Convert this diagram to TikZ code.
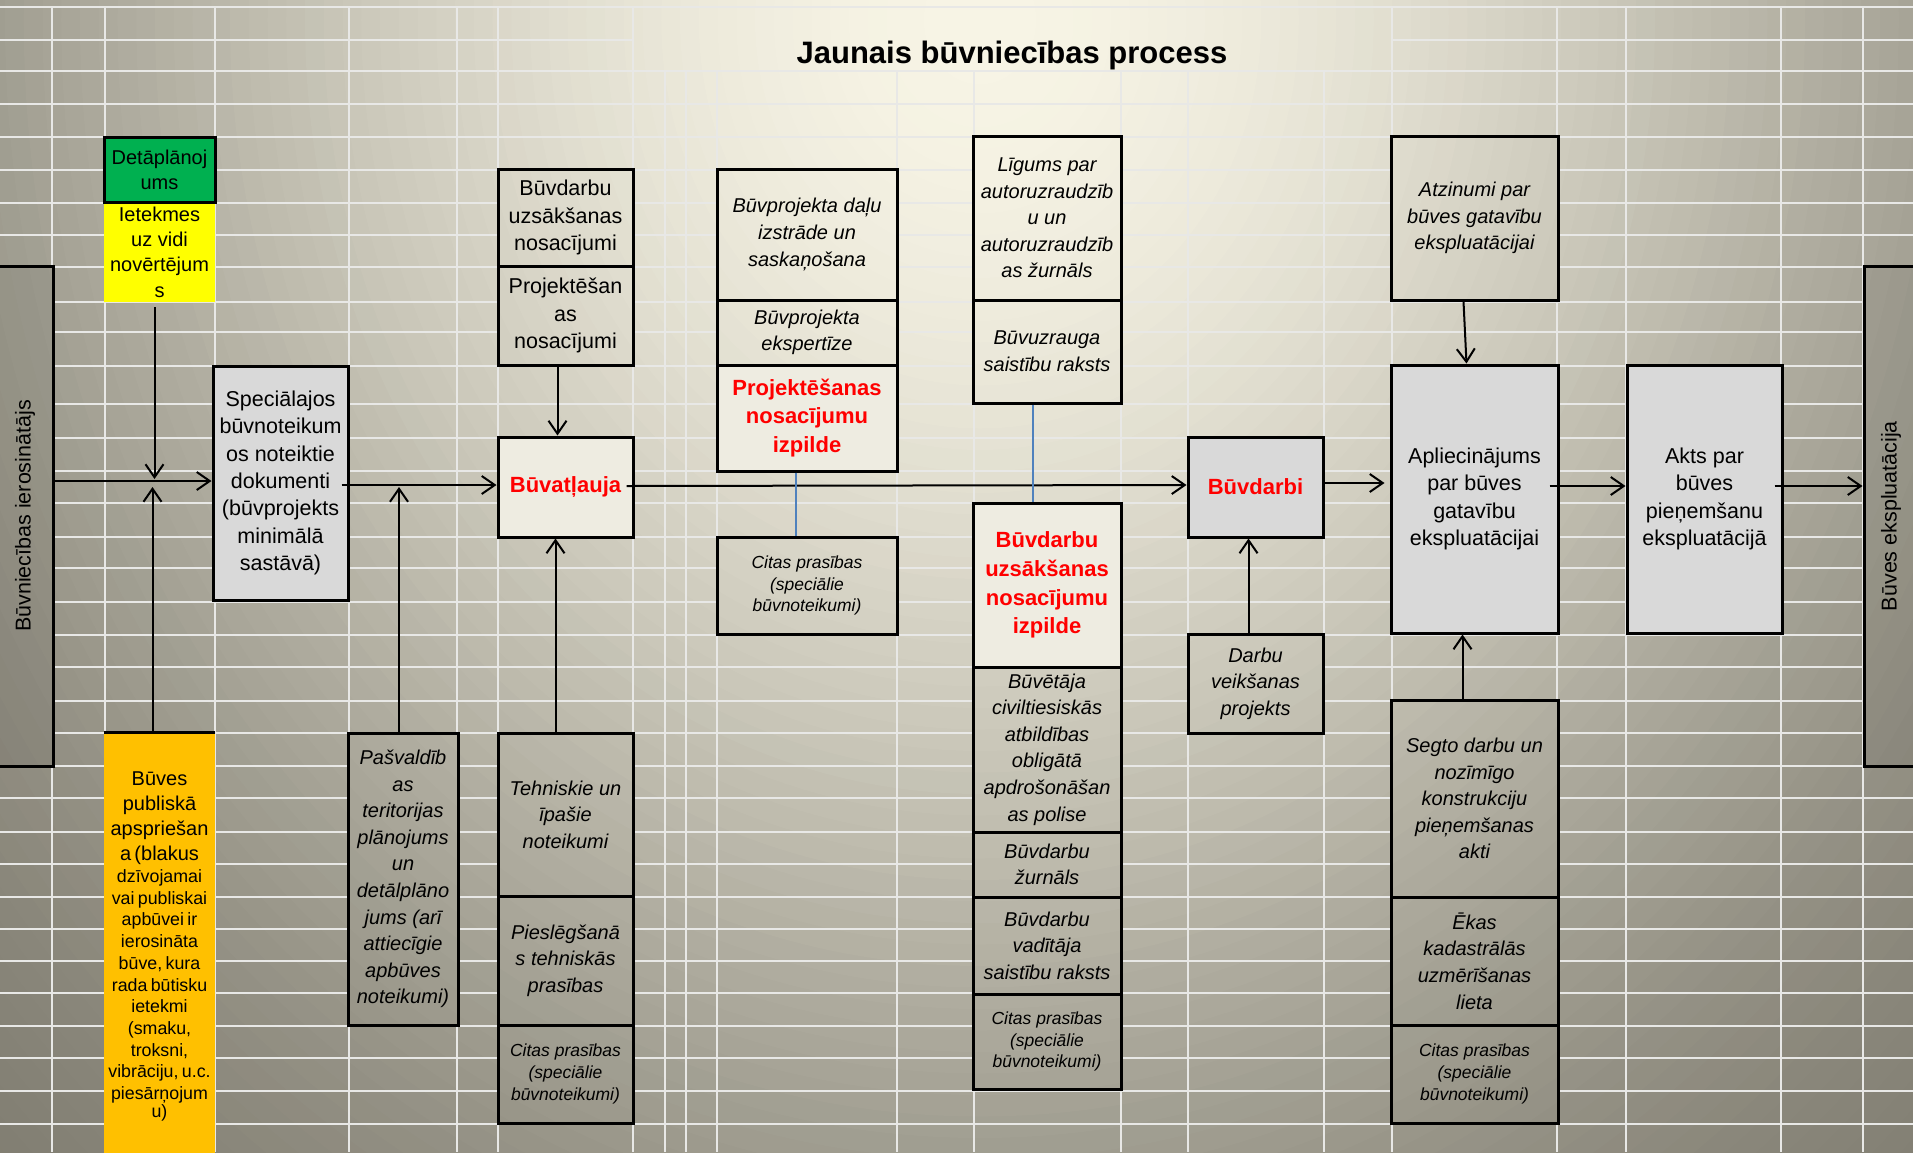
\documentclass[tikz,border=0pt]{standalone}
\usepackage{fontspec}
\setmainfont{Liberation Sans}
\usepackage{graphicx}
\usetikzlibrary{arrows.meta}

\definecolor{gridline}{RGB}{232,232,230}
\definecolor{boxgray}{RGB}{217,217,217}
\definecolor{boxcream}{RGB}{238,236,225}
\definecolor{dplgreen}{RGB}{0,176,80}
\definecolor{ivnyellow}{RGB}{255,255,0}
\definecolor{publorange}{RGB}{255,192,0}
\definecolor{linkblue}{RGB}{79,129,189}
\definecolor{textred}{RGB}{255,0,0}
\definecolor{bglight}{RGB}{247,244,229}
\definecolor{bgdark}{RGB}{128,125,113}

% page background: light at the top centre, darker to the sides
\newcommand\pagebg{%
  \fill[bgdark] (bgA) rectangle (bgB);
  \foreach \i in {0,...,79}{%
    \pgfmathsetmacro\bgu{1-(\i+0.5)/80}%
    \pgfmathsetmacro\bgp{100-100*\bgu*\bgu*(3-2*\bgu)}%
    \pgfmathsetmacro\bgrx{1500*(1-\i/80)}%
    \pgfmathsetmacro\bgry{1720*(1-\i/80)}%
    \fill[bglight!\bgp!bgdark] (bgC) ellipse [x radius=\bgrx pt, y radius=\bgry pt];
  }%
}

\newcommand\bodyfont{\fontsize{21.5}{27.3}\selectfont}
\newcommand\notefont{\fontsize{20}{26.6}\selectfont\itshape}
\newcommand\citfont{\fontsize{17.5}{21.7}\selectfont\itshape}
\newcommand\keyfont{\fontsize{22}{28.6}\selectfont\bfseries}
\newcommand\titlefont{\fontsize{31}{36}\selectfont\bfseries}

\begin{document}
\begin{tikzpicture}[x=1pt,y=-1pt,
  frame/.style={draw=black, line width=3pt},
  sheet/.style={path picture={\pagebg}},
  doc/.style={frame, sheet, font=\bodyfont},
  note/.style={frame, sheet, font=\notefont},
  cit/.style={frame, sheet, font=\citfont},
  graybox/.style={frame, fill=boxgray, font=\bodyfont},
  redbox/.style={frame, font=\keyfont, text=textred},
  bar/.style={frame, font=\bodyfont, path picture={\pagebg \fill[black, opacity=.05] (bgA) rectangle (bgB);}},
  flow/.style={line width=2pt, -{Straight Barb[length=13pt, width=18pt]}},
  link/.style={linkblue, line width=2pt}]
\tikzstyle{every node}+=[inner sep=0pt, align=center]

\useasboundingbox (0,0) rectangle (1913,1152);
\coordinate (bgA) at (-382,-1605);
\coordinate (bgB) at (2342,1645);
\coordinate (bgC) at (980,20);

% background and sheet grid
\begin{scope}
\clip (0,0) rectangle (1913,1152);
\pagebg
\foreach \y in {7,71,104,137,170,203,235,267,302,332,366,404,438,471,503,537,568,602,635,667,701,733,766,798,832,864,897,929,961,993,1026,1058,1091,1124}
  \draw[gridline, line width=2pt] (0,\y) -- (1913,\y);
\draw[gridline, line width=2pt] (0,40) -- (633,40) (1392,40) -- (1913,40);
\foreach \x in {52,105,215,349,457,498,633,1392,1557,1626,1781,1863}
  \draw[gridline, line width=2pt] (\x,7) -- (\x,1152);
\foreach \x in {665,686,717,897,974,1121,1188,1324}
  \draw[gridline, line width=2pt] (\x,71) -- (\x,1152);
\end{scope}

% left side
\node[bar, minimum width=56pt, minimum height=500pt] (ierosin) at (25,516) {\rotatebox{90}{Būvniecības ierosinātājs}};
\node[fill=ivnyellow, minimum width=111pt, minimum height=100pt, font=\fontsize{20}{25.3}\selectfont] (ivn) at (159.5,252) {Ietekmes\\uz vidi\\novērtējum\\s};
\node[frame, fill=dplgreen, minimum width=111pt, minimum height=65pt, font=\fontsize{20}{25.3}\selectfont] (dpl) at (159.5,169.5) {Detāplānoj\\ums};
\node[fill=publorange, minimum width=111pt, minimum height=427pt, text width=111pt] (publ) at (159.5,946.5) {\fontsize{20}{25}\selectfont Būves\\publiskā\\apspriešan\\a (blakus\par
  \fontsize{17.8}{21.7}\selectfont dzīvojamai\\vai publiskai\\apbūvei ir\\ierosināta\\būve, kura\\rada būtisku\\ietekmi\\(smaku,\\troksni,\\vibrāciju, u.c.\\piesārņojum\\u)};
\draw[line width=3pt] (publ.north west) -- (publ.north east);
\node[graybox, minimum width=135pt, minimum height=234pt] (spec) at (280.5,483) {Speciālajos\\būvnoteikum\\os noteiktie\\dokumenti\\(būvprojekts\\minimālā\\sastāvā)};
\node[note, minimum width=110pt, minimum height=292pt] (pasv) at (403,879) {Pašvaldīb\\as\\teritorijas\\plānojums\\un\\detālplāno\\jums (arī\\attiecīgie\\apbūves\\noteikumi)};

% building permit column
\node[doc, minimum width=135pt, minimum height=97pt] (buvuzs) at (565.5,217.5) {Būvdarbu\\uzsākšanas\\nosacījumi};
\node[doc, minimum width=135pt, minimum height=99pt] (projnos) at (565.5,315.5) {Projektēšan\\as\\nosacījumi};
\node[redbox, fill=boxcream, minimum width=135pt, minimum height=100pt] (buvatl) at (565.5,487) {Būvatļauja};
\node[note, minimum width=135pt, minimum height=163pt] (tehn) at (565.5,814.5) {Tehniskie un\\īpašie\\noteikumi};
\node[note, minimum width=135pt, minimum height=129pt] (piesl) at (565.5,960.5) {Pieslēgšanā\\s tehniskās\\prasības};
\node[cit, minimum width=135pt, minimum height=98pt] (cit1) at (565.5,1074) {Citas prasības\\(speciālie\\būvnoteikumi)};

% design column
\node[note, minimum width=180pt, minimum height=131pt] (bpdalu) at (807,234.5) {Būvprojekta daļu\\izstrāde un\\saskaņošana};
\node[note, minimum width=180pt, minimum height=65pt] (bpeksp) at (807,332.5) {Būvprojekta\\ekspertīze};
\node[redbox, fill=boxcream, minimum width=180pt, minimum height=106pt] (pnizp) at (807,418) {Projektēšanas\\nosacījumu\\izpilde};
\node[cit, minimum width=180pt, minimum height=97pt] (cit2) at (807,585.5) {Citas prasības\\(speciālie\\būvnoteikumi)};

% construction start column
\node[note, minimum width=148pt, minimum height=164pt] (ligums) at (1047,218) {Līgums par\\autoruzraudzīb\\u un\\autoruzraudzīb\\as žurnāls};
\node[note, minimum width=148pt, minimum height=103pt] (buvuzr) at (1047,351.5) {Būvuzrauga\\saistību raksts};
\node[redbox, fill=boxcream, minimum width=148pt, minimum height=164pt] (bdizp) at (1047,585) {Būvdarbu\\uzsākšanas\\nosacījumu\\izpilde};
\node[note, minimum width=148pt, minimum height=165pt] (buvet) at (1047,749.5) {Būvētāja\\civiltiesiskās\\atbildības\\obligātā\\apdrošonāšan\\as polise};
\node[note, minimum width=148pt, minimum height=65pt] (bdzurn) at (1047,864.5) {Būvdarbu\\žurnāls};
\node[note, minimum width=148pt, minimum height=97pt] (bdvad) at (1047,945.5) {Būvdarbu\\vadītāja\\saistību raksts};
\node[cit, minimum width=148pt, minimum height=95pt] (cit3) at (1047,1041.5) {Citas prasības\\(speciālie\\būvnoteikumi)};

% works
\node[redbox, fill=boxgray, minimum width=135pt, minimum height=100pt] (buvdarbi) at (1255.5,487) {Būvdarbi};
\node[note, minimum width=135pt, minimum height=99pt] (dvp) at (1255.5,683.5) {Darbu\\veikšanas\\projekts};

% acceptance column
\node[note, minimum width=167pt, minimum height=164pt] (atzin) at (1474.5,218) {Atzinumi par\\būves gatavību\\ekspluatācijai};
\node[graybox, minimum width=167pt, minimum height=268pt] (apl) at (1474.5,499) {Apliecinājums\\par būves\\gatavību\\ekspluatācijai};
\node[note, minimum width=167pt, minimum height=197pt] (segto) at (1474.5,798.5) {Segto darbu un\\nozīmīgo\\konstrukciju\\pieņemšanas\\akti};
\node[note, minimum width=167pt, minimum height=128pt] (ekas) at (1474.5,961) {Ēkas\\kadastrālās\\uzmērīšanas\\lieta};
\node[cit, minimum width=167pt, minimum height=98pt] (cit4) at (1474.5,1074) {Citas prasības\\(speciālie\\būvnoteikumi)};

\node[graybox, minimum width=155pt, minimum height=268pt] (akts) at (1704.5,499) {Akts par\\būves\\pieņemšanu\\ekspluatācijā};
\node[bar, minimum width=54pt, minimum height=500pt] (ekspl) at (1891,516) {\rotatebox{90}{Būves ekspluatācija}};

% connectors
\draw[flow] ([xshift=-5pt,yshift=-5pt]ivn.south) -- ([xshift=-5pt,yshift=8pt]ivn.south |- buvatl.west);
\draw[flow] ([xshift=-7pt]publ.north) -- ([xshift=-7pt]publ.north |- buvatl.west);
\draw[flow] ([yshift=2pt]ierosin.east |- spec.west) -- ([yshift=2pt]spec.west);
\draw[flow] ([xshift=-4pt]pasv.north) -- ([xshift=-4pt]pasv.north |- buvatl.west);
\draw[flow] ([xshift=-8pt,yshift=2pt]spec.east |- buvatl.west) -- ([yshift=2pt]buvatl.west);
\draw[flow] ([xshift=-8pt]projnos.south) -- ([xshift=-8pt]buvatl.north);
\draw[flow] ([xshift=-10pt]tehn.north) -- ([xshift=-10pt]buvatl.south);
\draw[flow] ([xshift=-8pt,yshift=1pt]buvatl.east) -- ([yshift=2pt]buvdarbi.west);
\draw[link] ([xshift=-11pt]pnizp.south) -- ([xshift=-11pt]cit2.north);
\draw[link] ([xshift=-14pt]buvuzr.south) -- ([xshift=-14pt]bdizp.north);
\draw[flow] ([xshift=-7pt]dvp.north) -- ([xshift=-7pt]buvdarbi.south);
\draw[flow] ([yshift=4pt]buvdarbi.east) -- ([xshift=-5pt,yshift=4pt]buvdarbi.east -| apl.west);
\draw[flow] ([xshift=-11pt]atzin.south) -- ([xshift=-8pt]apl.north);
\draw[flow] ([xshift=-12pt]segto.north) -- ([xshift=-12pt]apl.south);
\draw[flow] ([xshift=-10pt,yshift=13pt]apl.east) -- ([yshift=13pt]akts.west);
\draw[flow] ([xshift=-9pt,yshift=13pt]akts.east) -- ([yshift=13pt]akts.east -| ekspl.west);

\node[font=\titlefont, anchor=base] (title) at (1012,63) {Jaunais būvniecības process};
\end{tikzpicture}
\end{document}
